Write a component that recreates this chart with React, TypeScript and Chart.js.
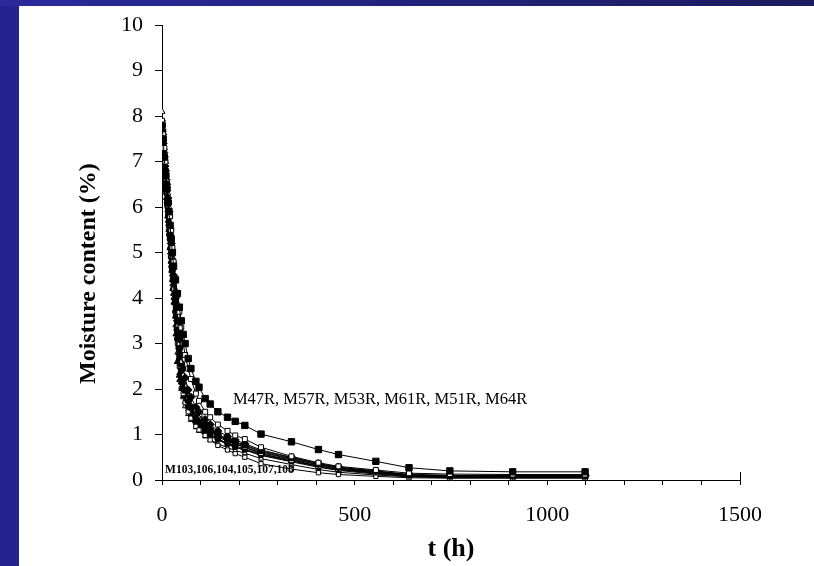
import React, { useEffect, useRef } from "react";
import { Chart, registerables } from "chart.js";

Chart.register(...registerables);

// Drying time (h)
const hours = [0, 3, 6, 9, 12, 15, 18, 21, 24, 27, 30, 35, 40, 45, 50, 55, 60, 68, 75, 88, 96, 112, 125, 145, 170, 190, 215, 257, 336, 406, 458, 555, 641, 747, 910, 1098];

// Moisture content (%) per sample
const m47r = [7.8, 7.5, 7.1, 6.7, 6.4, 6.1, 5.9, 5.6, 5.3, 5.0, 4.7, 4.4, 4.1, 3.8, 3.5, 3.2, 3.0, 2.67, 2.45, 2.17, 2.04, 1.79, 1.67, 1.5, 1.38, 1.29, 1.2, 1.01, 0.84, 0.67, 0.56, 0.41, 0.27, 0.2, 0.18, 0.18];
const m57r = [7.9, 7.6, 7.3, 7.0, 6.7, 6.4, 6.1, 5.8, 5.5, 5.1, 4.8, 4.4, 4.1, 3.7, 3.35, 3.0, 2.75, 2.45, 2.22, 1.9, 1.74, 1.5, 1.38, 1.22, 1.08, 0.98, 0.9, 0.72, 0.52, 0.38, 0.3, 0.22, 0.15, 0.13, 0.12, 0.12];
const m53r = [7.7, 7.4, 7.1, 6.8, 6.5, 6.2, 5.9, 5.5, 5.2, 4.8, 4.5, 4.0, 3.5, 3.1, 2.75, 2.45, 2.25, 1.98, 1.82, 1.6, 1.5, 1.33, 1.22, 1.08, 0.96, 0.88, 0.8, 0.66, 0.5, 0.36, 0.28, 0.2, 0.12, 0.1, 0.1, 0.1];
const m61r = [7.6, 7.2, 6.9, 6.5, 6.2, 5.8, 5.5, 5.1, 4.8, 4.4, 4.1, 3.6, 2.6, 2.3, 2.15, 2.05, 1.95, 1.75, 1.6, 1.4, 1.3, 1.18, 1.08, 0.98, 0.88, 0.82, 0.75, 0.62, 0.47, 0.34, 0.27, 0.18, 0.11, 0.09, 0.09, 0.08];
const m51r = [8.1, 7.7, 7.3, 7.0, 6.6, 6.3, 6.0, 5.6, 5.2, 4.9, 4.5, 4.0, 3.4, 3.0, 2.6, 2.3, 2.05, 1.8, 1.62, 1.45, 1.36, 1.2, 1.1, 0.98, 0.87, 0.8, 0.72, 0.58, 0.42, 0.3, 0.23, 0.15, 0.09, 0.07, 0.07, 0.07];
const m64r = [7.8, 7.5, 7.1, 6.8, 6.5, 6.1, 5.8, 5.4, 5.1, 4.7, 4.4, 3.9, 3.3, 2.9, 2.55, 2.25, 2.0, 1.75, 1.6, 1.42, 1.33, 1.2, 1.1, 1.0, 0.9, 0.84, 0.77, 0.64, 0.49, 0.36, 0.28, 0.19, 0.12, 0.1, 0.1, 0.1];
const m103 = [7.7, 7.3, 7.0, 6.6, 6.3, 6.0, 5.6, 5.3, 4.9, 4.5, 4.2, 3.6, 3.0, 2.5, 2.15, 1.9, 1.7, 1.5, 1.36, 1.18, 1.1, 0.98, 0.88, 0.76, 0.66, 0.58, 0.5, 0.36, 0.24, 0.16, 0.12, 0.08, 0.05, 0.04, 0.04, 0.04];
const m106 = [7.8, 7.5, 7.1, 6.7, 6.4, 6.0, 5.7, 5.3, 5.0, 4.6, 4.3, 3.8, 3.2, 2.75, 2.4, 2.1, 1.9, 1.65, 1.5, 1.32, 1.22, 1.1, 1.0, 0.9, 0.8, 0.72, 0.66, 0.54, 0.4, 0.28, 0.21, 0.13, 0.08, 0.06, 0.06, 0.06];
const m104 = [7.5, 7.1, 6.8, 6.4, 6.1, 5.7, 5.4, 5.0, 4.6, 4.2, 3.9, 3.2, 2.6, 2.2, 2.0, 1.85, 1.72, 1.55, 1.42, 1.26, 1.17, 1.05, 0.97, 0.88, 0.78, 0.72, 0.66, 0.55, 0.42, 0.3, 0.23, 0.15, 0.09, 0.07, 0.07, 0.07];
const m105 = [7.9, 7.6, 7.2, 6.9, 6.6, 6.2, 5.9, 5.5, 5.2, 4.8, 4.5, 4.0, 3.4, 2.95, 2.55, 2.25, 2.02, 1.75, 1.58, 1.38, 1.28, 1.14, 1.05, 0.95, 0.85, 0.79, 0.72, 0.6, 0.46, 0.33, 0.26, 0.17, 0.1, 0.08, 0.08, 0.08];
const m107 = [7.7, 7.4, 7.0, 6.7, 6.3, 6.0, 5.6, 5.3, 4.9, 4.6, 4.2, 3.7, 3.1, 2.65, 2.3, 2.05, 1.85, 1.62, 1.48, 1.3, 1.2, 1.08, 1.0, 0.9, 0.81, 0.75, 0.68, 0.57, 0.44, 0.31, 0.24, 0.16, 0.1, 0.08, 0.07, 0.07];
const m108 = [7.6, 7.2, 6.9, 6.5, 6.2, 5.8, 5.5, 5.1, 4.7, 4.3, 4.0, 3.4, 2.8, 2.35, 2.05, 1.82, 1.62, 1.45, 1.32, 1.16, 1.08, 0.96, 0.88, 0.8, 0.71, 0.65, 0.59, 0.47, 0.34, 0.23, 0.17, 0.11, 0.07, 0.05, 0.05, 0.05];

const seriesNames = ["M47R", "M57R", "M53R", "M61R", "M51R", "M64R", "M103", "M106", "M104", "M105", "M107", "M108"];
const seriesValues = [m47r, m57r, m53r, m61r, m51r, m64r, m103, m106, m104, m105, m107, m108];

// marker style per series: [pointStyle, filled, radius]
const markerStyles: [string, boolean, number][] = [
  ["rect", true, 4.5],
  ["rect", false, 3.5],
  ["rectRot", true, 4],
  ["triangle", true, 3.5],
  ["triangle", false, 3.5],
  ["circle", true, 3.5],
  ["rect", false, 3],
  ["rect", true, 3],
  ["triangle", true, 3],
  ["rectRot", true, 3.5],
  ["circle", true, 3],
  ["triangle", false, 3],
];

const xTicks = [0, 500, 1000, 1500];
const upperGroupLabel = "M47R, M57R, M53R, M61R, M51R, M64R";
const upperGroupAt = [184, 1.76];
const lowerGroupLabel = "M103,106,104,105,107,108";
const lowerGroupAt = [8, 0.22];

const SERIF = "'Liberation Serif', 'Times New Roman', Times, serif";

const annotationPlugin = {
  id: "groupLabels",
  afterDatasetsDraw(chart: any) {
    const { ctx, scales } = chart;
    const x = scales.x;
    const y = scales.y;
    ctx.save();
    ctx.fillStyle = "#000";
    ctx.textAlign = "left";
    ctx.textBaseline = "middle";
    ctx.font = `16.5px ${SERIF}`;
    ctx.fillText(upperGroupLabel, x.getPixelForValue(upperGroupAt[0]), y.getPixelForValue(upperGroupAt[1]));
    ctx.font = `bold 11.5px ${SERIF}`;
    ctx.fillText(lowerGroupLabel, x.getPixelForValue(lowerGroupAt[0]), y.getPixelForValue(lowerGroupAt[1]));
    // end tick of x axis rising above the axis line
    const xe = Math.round(x.getPixelForValue(xTicks[xTicks.length - 1])) + 0.5;
    const y0 = y.getPixelForValue(0);
    ctx.strokeStyle = "#000";
    ctx.lineWidth = 1;
    ctx.beginPath();
    ctx.moveTo(xe, y0);
    ctx.lineTo(xe, y0 - 8);
    ctx.stroke();
    ctx.restore();
  },
};

export default function App() {
  const canvasRef = useRef<HTMLCanvasElement | null>(null);

  useEffect(() => {
    if (!canvasRef.current) return;
    const datasets = seriesNames.map((name, i) => {
      const [style, filled, r] = markerStyles[i];
      return {
        label: name,
        data: hours.map((h, k) => ({ x: h, y: seriesValues[i][k] })),
        borderColor: "#000",
        borderWidth: 1,
        pointStyle: style as any,
        pointRadius: r,
        pointBackgroundColor: filled ? "#000" : "#fff",
        pointBorderColor: "#000",
        pointBorderWidth: 1,
        fill: false,
        tension: 0,
      };
    });
    const chart = new Chart(canvasRef.current, {
      type: "line",
      data: { datasets },
      plugins: [annotationPlugin],
      options: {
        animation: false,
        responsive: false,
        events: [],
        layout: { padding: { left: 0, right: 74, top: 20, bottom: 0 } },
        plugins: { legend: { display: false }, tooltip: { enabled: false } },
        scales: {
          x: {
            type: "linear",
            position: "bottom",
            min: 0,
            max: 1500,
            afterFit: (s: any) => { s.height = 86; },
            ticks: {
              stepSize: 100,
              autoSkip: false,
              maxRotation: 0,
              padding: 17,
              color: "#000",
              font: { family: SERIF, size: 22 },
              callback: (v: any) => (xTicks.includes(Number(v)) ? String(v) : ""),
            },
            grid: { drawOnChartArea: false, drawTicks: true, tickLength: 5, color: "#000", lineWidth: 1 },
            border: { display: true, color: "#000", width: 1 },
            title: {
              display: true,
              text: "t (h)",
              color: "#000",
              font: { family: SERIF, size: 26, weight: "bold" },
              padding: { top: 0, bottom: 1 },
            },
          },
          y: {
            type: "linear",
            min: 0,
            max: 10,
            afterFit: (s: any) => { s.width = 162; },
            ticks: {
              stepSize: 1,
              padding: 12,
              color: "#000",
              font: { family: SERIF, size: 22 },
            },
            grid: { drawOnChartArea: false, drawTicks: true, tickLength: 7, color: "#000", lineWidth: 1 },
            border: { display: true, color: "#000", width: 1 },
            title: {
              display: true,
              text: "Moisture content (%)\u00a0\u00a0\u00a0\u00a0\u00a0\u00a0\u00a0",
              color: "#000",
              font: { family: SERIF, size: 24, weight: "bold" },
              padding: { top: 74, bottom: 0 },
            },
          },
        },
      },
    });
    return () => chart.destroy();
  }, []);

  return (
    <div style={{ position: "absolute", left: 0, top: 0, width: 814, height: 566, background: "#fff", overflow: "hidden" }}>
      <div style={{ position: "absolute", left: 0, top: 0, width: 19, height: 566, background: "#25238f" }} />
      <div style={{ position: "absolute", left: 0, top: 0, width: 814, height: 6, background: "linear-gradient(to right, #2a2a9c, #1b1b5e)" }} />
      <canvas ref={canvasRef} width={814} height={566} style={{ position: "absolute", left: 0, top: 0, display: "block" }} />
    </div>
  );
}
